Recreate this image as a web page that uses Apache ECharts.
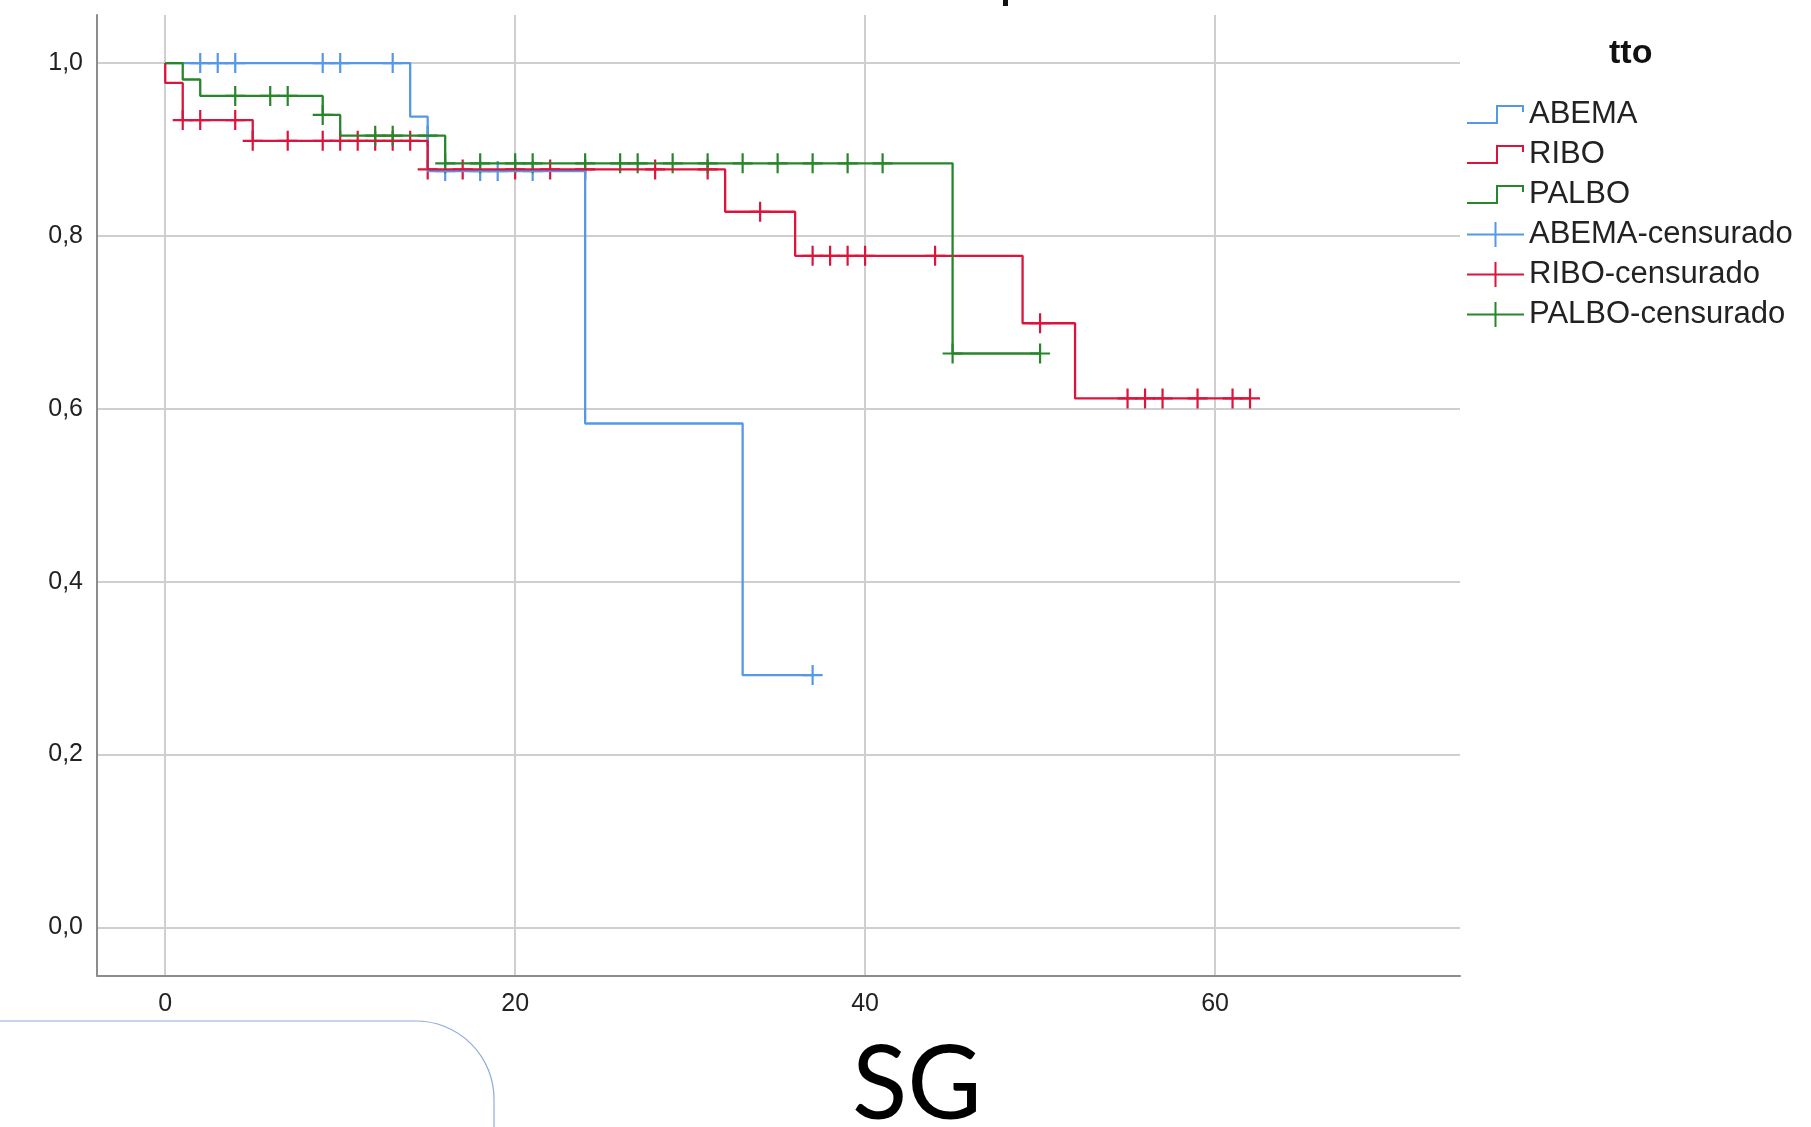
<!DOCTYPE html>
<html>
<head>
<meta charset="utf-8">
<script src="https://cdn.jsdelivr.net/npm/echarts@6/dist/echarts.min.js"></script>
<style>
html,body{margin:0;padding:0;background:#fff;}
#main{width:1811px;height:1127px;}
</style>
</head>
<body>
<div id="main"></div>
<script>
// Kaplan-Meier step curves: event times and survival after each step
const abemaT = [0, 14, 15, 24, 33, 37];
const abemaS = [1, 0.938, 0.875, 0.583, 0.292, 0.292];
const riboT = [0, 0, 1, 5, 15, 32, 36, 49, 52, 62];
const riboS = [1, 0.977, 0.934, 0.910, 0.877, 0.828, 0.777, 0.699, 0.612, 0.612];
const palboT = [0, 1, 2, 9, 10, 16, 45, 50];
const palboS = [1, 0.981, 0.962, 0.940, 0.916, 0.884, 0.664, 0.664];

// Censored observations
const abemaCensT = [2, 3, 4, 9, 10, 13, 16, 18, 19, 21, 37];
const abemaCensS = [1, 1, 1, 1, 1, 1, 0.875, 0.875, 0.875, 0.875, 0.292];
const riboCensT = [1, 2, 4, 5, 7, 9, 10, 11, 12, 13, 14, 15, 17, 20, 22, 24, 28, 31, 34, 37, 38, 39, 40, 44, 50, 55, 56, 57, 59, 61, 62];
const riboCensS = [0.934, 0.934, 0.934, 0.910, 0.910, 0.910, 0.910, 0.910, 0.910, 0.910, 0.910, 0.877, 0.877, 0.877, 0.877, 0.877, 0.877, 0.877, 0.828, 0.777, 0.777, 0.777, 0.777, 0.777, 0.699, 0.612, 0.612, 0.612, 0.612, 0.612, 0.612];
const palboCensT = [4, 6, 7, 9, 12, 13, 15, 16, 18, 20, 21, 24, 26, 27, 29, 31, 33, 35, 37, 39, 41, 45, 50];
const palboCensS = [0.962, 0.962, 0.962, 0.940, 0.916, 0.916, 0.916, 0.884, 0.884, 0.884, 0.884, 0.884, 0.884, 0.884, 0.884, 0.884, 0.884, 0.884, 0.884, 0.884, 0.884, 0.664, 0.664];

// Axis ticks
const xTicks = [0, 20, 40, 60];
const yTicks = [0, 0.2, 0.4, 0.6, 0.8, 1.0];

const groups = ['ABEMA', 'RIBO', 'PALBO'];
const censNames = ['ABEMA-censurado', 'RIBO-censurado', 'PALBO-censurado'];

const colors = {ABEMA: '#5598e6', RIBO: '#dc143c', PALBO: '#27862a'};
const pairs = (t, s) => t.map((v, i) => [v, s[i]]);

const stepIcon = 'path://M0,21 H29 V4 H57 V11 H55 V6 H31 V23 H0 Z';
const plusIcon = 'path://M0,11.5 H27.5 V0 H29.5 V11.5 H57 V13.5 H29.5 V25 H27.5 V13.5 H0 Z';
const plusSym = 'path://M-1.1,-10 H1.1 V-1.1 H10 V1.1 H1.1 V10 H-1.1 V1.1 H-10 V-1.1 H-1.1 Z';

const lineData = {ABEMA: pairs(abemaT, abemaS), RIBO: pairs(riboT, riboS), PALBO: pairs(palboT, palboS)};
const censData = {ABEMA: pairs(abemaCensT, abemaCensS), RIBO: pairs(riboCensT, riboCensS), PALBO: pairs(palboCensT, palboCensS)};

const series = [];
groups.forEach(g => {
  series.push({
    name: g, type: 'line', step: 'end', data: lineData[g],
    symbol: 'none', lineStyle: {color: colors[g], width: 2.3}, itemStyle: {color: colors[g]},
    silent: true, animation: false
  });
});
groups.forEach((g, i) => {
  series.push({
    name: censNames[i], type: 'scatter', data: censData[g],
    symbol: plusSym, symbolSize: [20, 20], itemStyle: {color: colors[g], opacity: 1},
    silent: true, animation: false
  });
});

const fmt = v => v.toFixed(1).replace('.', ',');

const chart = echarts.init(document.getElementById('main'), null, {renderer: 'canvas'});
chart.setOption({
  backgroundColor: '#ffffff',
  animation: false,
  grid: {left: 97, right: 351, top: 15, bottom: 151.5, containLabel: false},
  xAxis: {
    type: 'value', min: -3.9, max: 74,
    axisLine: {show: true, onZero: false, lineStyle: {color: '#8c8c8c', width: 2}},
    axisTick: {show: false, customValues: xTicks},
    axisLabel: {customValues: xTicks, color: '#222', fontSize: 25, fontFamily: 'Liberation Sans', margin: 16},
    splitLine: {show: true, lineStyle: {color: '#cfcfcf', width: 2}}
  },
  yAxis: {
    type: 'value', min: -0.0556, max: 1.0556,
    axisLine: {show: true, onZero: false, lineStyle: {color: '#8c8c8c', width: 2}},
    axisTick: {show: false, customValues: yTicks},
    axisLabel: {customValues: yTicks, formatter: fmt, color: '#222', fontSize: 25, fontFamily: 'Liberation Sans', margin: 14},
    splitLine: {show: true, lineStyle: {color: '#cfcfcf', width: 2}}
  },
  legend: {
    orient: 'vertical', left: 1462, top: 94, itemGap: 9,
    itemWidth: 57, itemHeight: 25,
    selectedMode: false,
    textStyle: {fontSize: 31, fontFamily: 'Liberation Sans', color: '#222', lineHeight: 31},
    data: [
      {name: 'ABEMA', icon: stepIcon, itemStyle: {color: colors.ABEMA}},
      {name: 'RIBO', icon: stepIcon, itemStyle: {color: colors.RIBO}},
      {name: 'PALBO', icon: stepIcon, itemStyle: {color: colors.PALBO}},
      {name: 'ABEMA-censurado', icon: plusIcon, itemStyle: {color: colors.ABEMA}},
      {name: 'RIBO-censurado', icon: plusIcon, itemStyle: {color: colors.RIBO}},
      {name: 'PALBO-censurado', icon: plusIcon, itemStyle: {color: colors.PALBO}}
    ]
  },
  graphic: [
    {type: 'text', left: 1609, top: 37, style: {text: 'tto', font: 'bold 34px "Liberation Sans"', fill: '#111'}},
    {type: 'text', left: 852, top: 1035, style: {text: 'SG', font: '102px Lato', fill: '#000'}},
    {type: 'polyline', shape: {points: [[0, 1021], [416, 1021]]}, style: {stroke: '#8faadc', lineWidth: 1.2, fill: null}},
    {type: 'arc', shape: {cx: 416, cy: 1099, r: 78, startAngle: -Math.PI / 2, endAngle: 0, clockwise: true}, style: {stroke: '#8faadc', lineWidth: 1.2, fill: null}},
    {type: 'polyline', shape: {points: [[494, 1099], [494, 1127]]}, style: {stroke: '#8faadc', lineWidth: 1.2, fill: null}},
    {type: 'rect', shape: {x: 1003, y: 0, width: 5, height: 6}, style: {fill: '#111'}}
  ],
  series: series
});
</script>
</body>
</html>
